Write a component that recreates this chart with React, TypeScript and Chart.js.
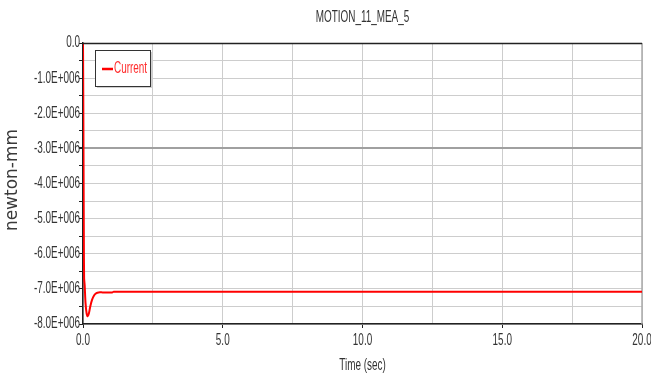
import React, { useEffect, useRef } from "react";
import { Chart, registerables } from "chart.js";

Chart.register(...registerables);

const chartTitle = "MOTION_11_MEA_5";
const xAxisTitle = "Time (sec)";
const yAxisTitle = "newton-mm";
const seriesName = "Current";

const timeValues = [0, 0.01, 0.02, 0.03, 0.04, 0.06, 0.09, 0.13, 0.17, 0.21, 0.26, 0.32, 0.4, 0.48, 0.56, 0.7, 0.9, 1.05, 1.1, 1.2, 2, 5, 10, 15, 20];
const currentValues = [0, -1.5e6, -3.5e6, -5.5e6, -6.7e6, -6.9e6, -7.4e6, -7.7e6, -7.78e6, -7.7e6, -7.5e6, -7.32e6, -7.18e6, -7.12e6, -7.1e6, -7.1e6, -7.1e6, -7.1e6, -7.08e6, -7.08e6, -7.08e6, -7.08e6, -7.08e6, -7.08e6, -7.08e6];

const xMin = 0;
const xMax = 20;
const xStep = 2.5;
const xLabelEvery = 5;
const yMin = -8e6;
const yMax = 0;
const yStep = 0.5e6;
const yLabelEvery = 1e6;

const NARROW = "'Liberation Sans', Arial, sans-serif";
const SQUEEZE = 0.62;

function isMultiple(v: number, m: number): boolean {
  return Math.abs(v / m - Math.round(v / m)) < 1e-6;
}

function fmtX(v: number): string {
  return isMultiple(v, xLabelEvery) ? v.toFixed(1) : "";
}

function fmtY(v: number): string {
  if (!isMultiple(v, yLabelEvery)) return "";
  if (Math.abs(v) < 1) return "0.0";
  return (v / 1e6).toFixed(1) + "E+006";
}

function narrowText(ctx: any, text: string, x: number, y: number, align: string, size: number, color: string) {
  ctx.save();
  ctx.font = `${size}px ${NARROW}`;
  ctx.fillStyle = color;
  ctx.textBaseline = "middle";
  ctx.textAlign = align;
  ctx.translate(x, y);
  ctx.scale(SQUEEZE, 1);
  ctx.fillText(text, 0, 0);
  ctx.restore();
}

const decorPlugin = {
  id: "decor",
  beforeDatasetsDraw(chart: any) {
    const ctx = chart.ctx;
    const a = chart.chartArea;
    ctx.save();
    ctx.strokeStyle = "#aaaaaa";
    ctx.lineWidth = 1.5;
    ctx.beginPath();
    ctx.moveTo(a.right, a.top);
    ctx.lineTo(a.right, a.bottom);
    ctx.stroke();
    ctx.restore();
  },
  afterDraw(chart: any) {
    const ctx = chart.ctx;
    const a = chart.chartArea;
    ctx.save();
    // top border
    ctx.strokeStyle = "#222";
    ctx.lineWidth = 1.5;
    ctx.beginPath();
    ctx.moveTo(a.left, a.top + 0.5);
    ctx.lineTo(a.right, a.top + 0.5);
    ctx.stroke();

    // tick labels from the library's scales
    const xs = chart.scales.x;
    xs.ticks.forEach((t: any) => {
      const lbl = fmtX(t.value);
      if (lbl) narrowText(ctx, lbl, xs.getPixelForValue(t.value), a.bottom + 17, "center", 16, "#333");
    });
    const ys = chart.scales.y;
    ys.ticks.forEach((t: any) => {
      const lbl = fmtY(t.value);
      if (lbl) narrowText(ctx, lbl, a.left - 3, ys.getPixelForValue(t.value), "right", 16, "#333");
    });

    // titles
    narrowText(ctx, chartTitle, (a.left + a.right) / 2, 18, "center", 16, "#333");
    narrowText(ctx, xAxisTitle, (a.left + a.right) / 2 + 0, 366, "center", 16, "#333");
    ctx.save();
    ctx.translate(13, 180);
    ctx.rotate(-Math.PI / 2);
    ctx.font = `17px 'DejaVu Sans', sans-serif`;
    ctx.fillStyle = "#3a3a3a";
    ctx.textAlign = "center";
    ctx.textBaseline = "middle";
    ctx.fillText(yAxisTitle, 0, 0);
    ctx.restore();

    // legend box
    const bx = 95, by = 50, bw = 55, bh = 36;
    ctx.fillStyle = "#d0d0d0";
    ctx.fillRect(bx + 2, by + 2, bw, bh);
    ctx.fillStyle = "#fff";
    ctx.fillRect(bx, by, bw, bh);
    ctx.strokeStyle = "#333";
    ctx.lineWidth = 1;
    ctx.strokeRect(bx + 0.5, by + 0.5, bw, bh);
    ctx.strokeStyle = "#ff0000";
    ctx.lineWidth = 2.5;
    ctx.beginPath();
    ctx.moveTo(102, 69);
    ctx.lineTo(113, 69);
    ctx.stroke();
    narrowText(ctx, seriesName, 114, 69, "left", 16, "#ff2a2a");
    ctx.restore();
  },
};

export default function App() {
  const ref = useRef<HTMLCanvasElement | null>(null);
  useEffect(() => {
    document.body.style.margin = "0";
    const canvas = ref.current;
    if (!canvas) return;
    const chart = new Chart(canvas, {
      type: "line",
      data: {
        datasets: [
          {
            label: seriesName,
            data: timeValues.map((t, i) => ({ x: t, y: currentValues[i] })),
            borderColor: "#ff0000",
            borderWidth: 2,
            pointRadius: 0,
            tension: 0.3,
            fill: false,
          },
        ],
      },
      options: {
        animation: false,
        responsive: false,
        maintainAspectRatio: false,
        layout: { padding: { left: 0, right: 9, top: 43, bottom: 0 } },
        plugins: { legend: { display: false }, title: { display: false }, tooltip: { enabled: false } },
        scales: {
          x: {
            type: "linear",
            min: xMin,
            max: xMax,
            afterFit(s: any) { s.height = 59; },
            ticks: {
              stepSize: xStep,
              autoSkip: false,
              maxRotation: 0,
              color: "rgba(0,0,0,0)",
              font: { size: 1 },
              callback: (v: any) => fmtX(Number(v)),
            },
            grid: {
              color: "#cdcdcd",
              tickColor: (c: any) => (c.tick && isMultiple(c.tick.value, xLabelEvery) ? "#222" : "rgba(0,0,0,0)"),
              tickLength: 4,
              lineWidth: 1,
            },
            border: { color: "#222", width: 1.5 },
          },
          y: {
            type: "linear",
            min: yMin,
            max: yMax,
            afterFit(s: any) { s.width = 83; },
            ticks: {
              stepSize: yStep,
              autoSkip: false,
              color: "rgba(0,0,0,0)",
              font: { size: 1 },
              callback: (v: any) => fmtY(Number(v)),
            },
            grid: {
              color: (c: any) => (c.tick && Math.abs(c.tick.value + 3e6) < 1 ? "#a0a0a0" : "#cdcdcd"),
              lineWidth: (c: any) => (c.tick && Math.abs(c.tick.value + 3e6) < 1 ? 2 : 1),
              tickColor: "#222",
              tickLength: 4,
            },
            border: { color: "#222", width: 1.5 },
          },
        },
      },
      plugins: [decorPlugin],
    });
    return () => chart.destroy();
  }, []);
  return (
    <div style={{ position: "fixed", left: 0, top: 0, width: 651, height: 383, background: "#fff" }}>
      <canvas ref={ref} width={651} height={383} style={{ width: 651, height: 383 }} />
    </div>
  );
}
